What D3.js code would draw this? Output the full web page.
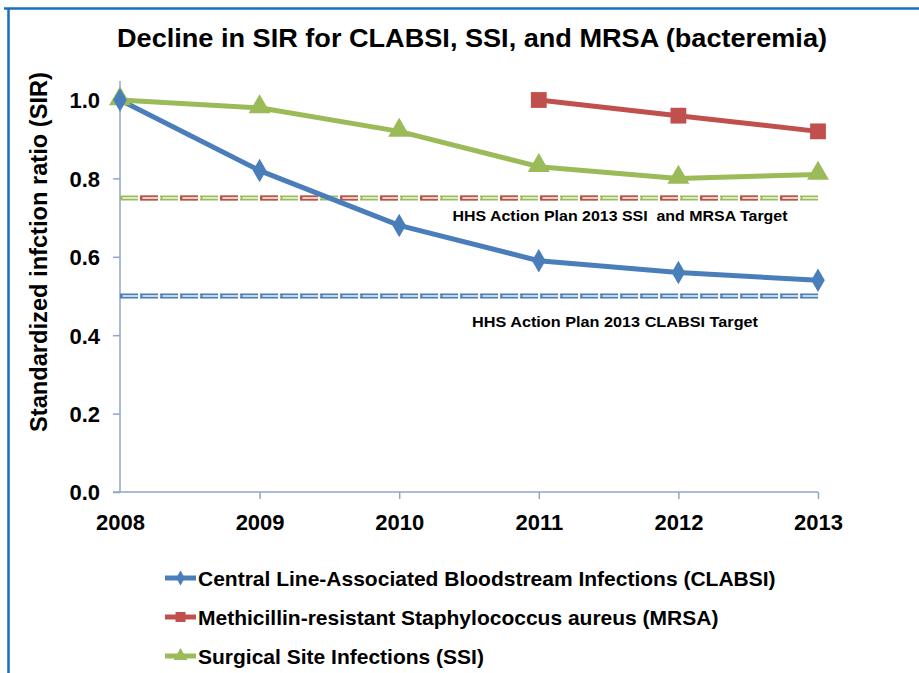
<!DOCTYPE html>
<html><head><meta charset="utf-8">
<script src="https://cdn.jsdelivr.net/npm/d3@7"></script>
<style>body{margin:0;background:#fff}svg{display:block}text{font-family:"Liberation Sans",Arial,sans-serif;font-weight:bold;fill:#000}</style>
</head><body><svg id="c" width="919" height="673"></svg>
<script>
const years = [2008, 2009, 2010, 2011, 2012, 2013];
const clabsi = [1.0, 0.82, 0.68, 0.59, 0.56, 0.54];
const mrsa = [null, null, null, 1.0, 0.96, 0.92];
const ssi = [1.0, 0.98, 0.92, 0.83, 0.80, 0.81];
const yTicks = [0, 0.2, 0.4, 0.6, 0.8, 1.0];
const targetSsiMrsa = 0.75;
const targetClabsi = 0.50;
const seriesNames = ["Central Line-Associated Bloodstream Infections (CLABSI)", "Methicillin-resistant Staphylococcus aureus (MRSA)", "Surgical Site Infections (SSI)"];
const colors = ["#4a7ebb", "#c0504d", "#9bbb59"];
const symbols = [d3.symbolDiamond, d3.symbolSquare, d3.symbolTriangle];
const title = "Decline in SIR for CLABSI, SSI, and MRSA (bacteremia)";
const yLabel = "Standardized infction ratio (SIR)";
const targetLabels = ["HHS Action Plan 2013 SSI  and MRSA Target", "HHS Action Plan 2013 CLABSI Target"];

const svg = d3.select("#c");
// frame
svg.append("line").attr("x1", 4).attr("x2", 919).attr("y1", 8.5).attr("y2", 8.5).attr("stroke", "#1a6ec2").attr("stroke-width", 2.5);
svg.append("line").attr("x1", 8.5).attr("x2", 8.5).attr("y1", 8).attr("y2", 673).attr("stroke", "#1a6ec2").attr("stroke-width", 2.5);

const x = d3.scalePoint().domain(years).range([120, 818]);
const y = d3.scaleLinear().domain([0, 1]).range([492, 100]);

svg.append("text").attr("x", 472).attr("y", 47).attr("text-anchor", "middle").style("font-size", "26px")
  .attr("textLength", 710).attr("lengthAdjust", "spacingAndGlyphs").text(title);

// axes
const axisColor = "#8fa6cc";
const yAxis = svg.append("g").attr("transform", "translate(120,0)")
  .call(d3.axisLeft(y).tickValues(yTicks).tickFormat(d3.format(".1f")).tickSize(7).tickPadding(13));
yAxis.select(".domain").remove();
svg.append("line").attr("x1", 120).attr("x2", 120).attr("y1", 81).attr("y2", 492).attr("stroke", axisColor).attr("stroke-width", 1.5);
const xAxis = svg.append("g").attr("transform", "translate(0,492)")
  .call(d3.axisBottom(x).tickSize(7).tickPadding(10));
xAxis.select(".domain").remove();
svg.append("line").attr("x1", 113).attr("x2", 818).attr("y1", 492).attr("y2", 492).attr("stroke", axisColor).attr("stroke-width", 1.5);
svg.selectAll(".tick line").attr("stroke", axisColor).attr("stroke-width", 1.5);
svg.selectAll(".tick text").style("font-size", "22px").style("font-family", "'Liberation Sans',Arial,sans-serif").style("font-weight", "bold").attr("fill", "#000");
xAxis.selectAll(".tick text").attr("dy", "0.95em");
yAxis.selectAll(".tick text").attr("dy", "0.36em");
xAxis.selectAll(".tick").filter((d, i) => i === 0).select("line").remove();

svg.append("text").attr("transform", "translate(47,252) rotate(-90)").attr("text-anchor", "middle").style("font-size", "23px")
  .attr("textLength", 360).attr("lengthAdjust", "spacingAndGlyphs").text(yLabel);

// target lines (outlined dashes)
function dashed(val, color, dash, offset) {
  const g = svg.append("g");
  g.append("line").attr("x1", 120).attr("x2", 818).attr("y1", y(val)).attr("y2", y(val))
    .attr("stroke", color).attr("stroke-width", 5).attr("stroke-dasharray", dash).attr("stroke-dashoffset", offset);
  g.append("line").attr("x1", 121).attr("x2", 818).attr("y1", y(val)).attr("y2", y(val))
    .attr("stroke", "#f4f7ee").attr("stroke-width", 1.6).attr("stroke-dasharray", dash).attr("stroke-dashoffset", offset - 1.5);
}
dashed(targetSsiMrsa, colors[2], "18,2", 0);
dashed(targetSsiMrsa, colors[1], "18,22", -20);
dashed(targetClabsi, colors[0], "18,2", 0);

svg.append("text").attr("x", 620).attr("y", 221).attr("text-anchor", "middle").style("font-size", "15px").attr("xml:space", "preserve")
  .attr("textLength", 335).attr("lengthAdjust", "spacingAndGlyphs").text(targetLabels[0]);
svg.append("text").attr("x", 615).attr("y", 327).attr("text-anchor", "middle").style("font-size", "15px")
  .attr("textLength", 286).attr("lengthAdjust", "spacingAndGlyphs").text(targetLabels[1]);

// series
const allSeries = [clabsi, mrsa, ssi];
const line = d3.line().defined(d => d.v != null).x(d => x(d.yr)).y(d => y(d.v));
const sizes = [160, 250, 210];
allSeries.forEach((vals, i) => {
  const pts = years.map((yr, j) => ({yr, v: vals[j]}));
  svg.append("path").datum(pts).attr("d", line).attr("fill", "none").attr("stroke", colors[i]).attr("stroke-width", 5).attr("stroke-linejoin", "round");
});
[2, 0, 1].forEach(i => {
  const vals = allSeries[i];
  const pts = years.map((yr, j) => ({yr, v: vals[j]})).filter(d => d.v != null);
  svg.append("g").selectAll("path").data(pts).join("path")
    .attr("transform", d => `translate(${x(d.yr)},${y(d.v) + (i === 2 ? -1 : 0)})`)
    .attr("d", d3.symbol().type(symbols[i]).size(sizes[i])).attr("fill", colors[i]);
});

// legend
const legY = [578, 617, 656];
seriesNames.forEach((name, i) => {
  const g = svg.append("g").attr("transform", `translate(165,${legY[i]})`);
  g.append("line").attr("x1", 0).attr("x2", 31).attr("stroke", colors[i]).attr("stroke-width", 5);
  g.append("path").attr("transform", "translate(15.5,0)").attr("d", d3.symbol().type(symbols[i]).size(sizes[i] * 0.4)).attr("fill", colors[i]);
  g.append("text").attr("x", 33).attr("y", 0).attr("dy", "0.36em").style("font-size", "21px").text(name);
});
</script></body></html>
